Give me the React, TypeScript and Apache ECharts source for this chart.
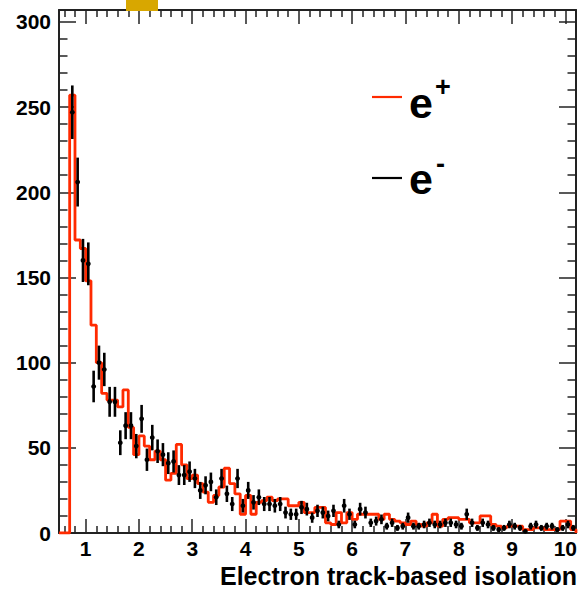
import React, { useEffect, useRef } from "react";
import * as echarts from "echarts";

// Histogram binning (bin left edges start at BIN_START, constant width)
const BIN_START = 0.5;
const BIN_WIDTH = 0.1;
const X_MIN = 0.5;
const X_MAX = 10.2;
const Y_MIN = 0;
const Y_MAX = 307;

const X_LABELS = [1, 2, 3, 4, 5, 6, 7, 8, 9, 10];
const Y_LABELS = [0, 50, 100, 150, 200, 250, 300];

const X_TITLE = "Electron track-based isolation";
const LEGEND = ["e", "e"];
const LEGEND_SUP = ["+", "-"];

// e+ : red step histogram, one value per 0.1 bin from 0.5
const E_PLUS = [
  0, 0, 257, 172, 167,
  148, 122, 100, 82, 78, 78, 74, 84, 62, 46,
  57, 51, 43, 48, 43, 31, 35, 52, 40, 32,
  34, 29, 24, 18, 22, 27, 38, 29, 23, 11,
  22, 11, 18, 19, 21, 19, 20, 20, 16, 16,
  18, 12, 12, 15, 15, 6, 5, 12, 6, 12,
  8, 11, 11, 11, 11, 8, 11, 8, 7, 6,
  5, 7, 5, 4, 6, 11, 4, 8, 9, 9,
  8, 8, 6, 6, 10, 10, 5, 4, 3, 4,
  4, 4, 2, 2, 3, 3, 2, 2, 2, 7,
  7, 2,
];

// e- : black points with error bars, one value per 0.1 bin from 0.5
const E_MINUS: (number | null)[] = [
  null, null, 247, 206, 160,
  158, 86, 100, 96, 77, 77, 53, 63, 63, 51,
  67, 43, 56, 48, 46, 41, 42, 34, 34, 36,
  32, 25, 28, 30, 21, 32, 23, 17, 32, 16,
  25, 18, 21, 17, 17, 16, 17, 12, 11, 11,
  15, 14, 9, 13, 12, 10, 13, 5, 16, 11,
  5, 14, 12, 6, 7, 8, 4, 6, 3, 4,
  9, 4, 4, 5, 6, 5, 5, 6, 6, 5,
  4, 11, 6, 3, 6, 5, 3, 2, 3, 5,
  4, 3, 1, 4, 5, 3, 4, 4, 2, 3,
  5, 3,
];

const FONT = '"Liberation Sans", Arial, Helvetica, sans-serif';
const RED = "#ff2a00";

export default function App() {
  const ref = useRef<HTMLDivElement>(null);

  useEffect(() => {
    const chart = echarts.init(ref.current!, null, { renderer: "svg" });

    const xMinor: number[] = [];
    for (let k = 6; k <= 102; k += 2) if (k % 10 !== 0) xMinor.push(k / 10);
    const yMinor: number[] = [];
    for (let v = 10; v <= 300; v += 10) if (v % 50 !== 0) yMinor.push(v);

    const redData: number[][] = E_PLUS.map((v, i) => [BIN_START + i * BIN_WIDTH, v]);
    redData.push([BIN_START + E_PLUS.length * BIN_WIDTH, 0]);

    const blackData: number[][] = [];
    E_MINUS.forEach((v, i) => {
      if (v !== null) blackData.push([BIN_START + (i + 0.5) * BIN_WIDTH, v]);
    });

    const lineStyle = { color: "#222", width: 2 };
    const tickStyle = { color: "#222", width: 1.5 };

    const xAx = (pos: string, vals: number[], len: number, label: boolean, line: boolean) => ({
      type: "value",
      position: pos,
      min: X_MIN,
      max: X_MAX,
      axisLine: { show: line, onZero: false, lineStyle },
      axisTick: { show: true, inside: true, length: len, customValues: vals, lineStyle: tickStyle },
      axisLabel: label
        ? { show: true, customValues: X_LABELS, color: "#000", fontFamily: FONT, fontWeight: "bold", fontSize: 21, margin: 5 }
        : { show: false },
      splitLine: { show: false },
    });
    const yAx = (pos: string, vals: number[], len: number, label: boolean, line: boolean) => ({
      type: "value",
      position: pos,
      min: Y_MIN,
      max: Y_MAX,
      axisLine: { show: line, onZero: false, lineStyle },
      axisTick: { show: true, inside: true, length: len, customValues: vals, lineStyle: tickStyle },
      axisLabel: label
        ? { show: true, customValues: Y_LABELS, color: "#000", fontFamily: FONT, fontWeight: "bold", fontSize: 21, margin: 8 }
        : { show: false },
      splitLine: { show: false },
    });

    const option: any = {
      animation: false,
      backgroundColor: "#fff",
      grid: { left: 59, right: 6, top: 10, bottom: 56, containLabel: false },
      xAxis: [
        xAx("bottom", X_LABELS, 14, true, true),
        xAx("bottom", xMinor, 7, false, false),
        xAx("top", X_LABELS, 14, false, true),
        xAx("top", xMinor, 7, false, false),
      ],
      yAxis: [
        yAx("left", Y_LABELS, 17, true, true),
        yAx("left", yMinor, 8.5, false, false),
        yAx("right", Y_LABELS, 17, false, true),
        yAx("right", yMinor, 8.5, false, false),
      ],
      series: [
        {
          type: "line",
          name: "e+",
          xAxisIndex: 0,
          yAxisIndex: 0,
          step: "end",
          data: redData,
          showSymbol: false,
          lineStyle: { color: RED, width: 2.8 },
          z: 3,
        },
        {
          type: "custom",
          name: "e-",
          xAxisIndex: 0,
          yAxisIndex: 0,
          data: blackData,
          z: 4,
          renderItem: (params: any, api: any) => {
            const x = api.value(0);
            const v = api.value(1);
            const err = Math.sqrt(v);
            const top = api.coord([x, v + err]);
            const bot = api.coord([x, Math.max(0, v - err)]);
            const c = api.coord([x, v]);
            return {
              type: "group",
              children: [
                { type: "line", shape: { x1: c[0], y1: top[1], x2: c[0], y2: bot[1] }, style: { stroke: "#000", lineWidth: 2.6 } },
                { type: "circle", shape: { cx: c[0], cy: c[1], r: 2.4 }, style: { fill: "#000" } },
              ],
            };
          },
        },
      ],
      graphic: [
        { type: "rect", shape: { x: 126, y: 0, width: 32, height: 11 }, style: { fill: "#d8a700" }, z: 10 },
        { type: "line", shape: { x1: 372, y1: 97, x2: 402, y2: 97 }, style: { stroke: RED, lineWidth: 2.2 } },
        { type: "text", x: 409, y: 103, style: { text: LEGEND[0], font: `bold 43px ${FONT}`, fill: "#000", verticalAlign: "middle" } },
        { type: "text", x: 435, y: 87, style: { text: LEGEND_SUP[0], font: `bold 27px ${FONT}`, fill: "#000", verticalAlign: "middle" } },
        { type: "line", shape: { x1: 372, y1: 178, x2: 402, y2: 178 }, style: { stroke: "#000", lineWidth: 2.2 } },
        { type: "text", x: 409, y: 179, style: { text: LEGEND[1], font: `bold 43px ${FONT}`, fill: "#000", verticalAlign: "middle" } },
        { type: "text", x: 436, y: 164, style: { text: LEGEND_SUP[1], font: `bold 27px ${FONT}`, fill: "#000", verticalAlign: "middle" } },
        { type: "text", x: 577, y: 576, style: { text: X_TITLE, font: `bold 25px ${FONT}`, lineHeight: 25, fill: "#000", align: "right", verticalAlign: "middle" } },
      ],
    };

    chart.setOption(option);
    return () => chart.dispose();
  }, []);

  return (
    <div
      ref={ref}
      style={{ position: "fixed", left: 0, top: 0, width: 582, height: 589, background: "#fff" }}
    />
  );
}
